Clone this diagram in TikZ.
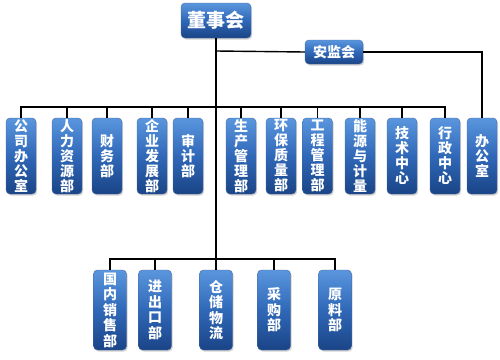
\documentclass[tikz,border=0pt]{standalone}
\usepackage{fontspec}
\newfontfamily\cjk{Noto Sans CJK SC}
\usetikzlibrary{shadows}
\definecolor{orgtop}{RGB}{90,150,222}
\definecolor{orgmid}{RGB}{48,104,184}
\definecolor{orgbot}{RGB}{26,68,134}

\begin{document}
\begin{tikzpicture}[x=1pt,y=-1pt,
      box/.style={rounded corners=4pt,top color=orgtop,bottom color=orgbot,middle color=orgmid,
        draw=orgbot!80,thin,text=white,inner sep=0pt,align=center,
        drop shadow={shadow xshift=1.2pt,shadow yshift=-1.5pt,opacity=.35}},
      dept/.style={box,minimum width=30pt,minimum height=76pt,
        font=\cjk\bfseries\fontsize{14}{15}\selectfont},
      sub/.style={box,minimum width=33pt,minimum height=80pt,
        font=\cjk\bfseries\fontsize{14}{15.5}\selectfont},
      ln/.style={line width=1.4pt}]
      \useasboundingbox (0,0) rectangle (500,359);
      % top level
      \node[box,minimum width=70pt,minimum height=35pt,font=\cjk\bfseries\fontsize{19}{20}\selectfont]
        (board) at (216,20.5) {董事会};
      \node[box,minimum width=58pt,minimum height=24pt,font=\cjk\bfseries\fontsize{14}{15}\selectfont]
        (ajh) at (334,52) {安监会};
      % departments
      \node[dept] (gsbgs) at (21,156) {公\\司\\办\\公\\室};
      \node[dept] (rlzy) at (67,156) {人\\力\\资\\源\\部};
      \node[dept] (cwb) at (107,156) {财\\务\\部};
      \node[dept] (qyfz) at (152,156) {企\\业\\发\\展\\部};
      \node[dept] (sjb) at (188,156) {审\\计\\部};
      \node[dept] (scgl) at (241,156) {生\\产\\管\\理\\部};
      \node[dept] (hbzl) at (281,156) {环\\保\\质\\量\\部};
      \node[dept] (gcgl) at (317.5,156) {工\\程\\管\\理\\部};
      \node[dept] (nyjl) at (360,156) {能\\源\\与\\计\\量};
      \node[dept] (jszx) at (402,156) {技\\术\\中\\心};
      \node[dept] (xzzx) at (445,156) {行\\政\\中\\心};
      \node[dept] (bgs) at (482,156) {办\\公\\室};
      % lower row
      \node[sub] (gnxs) at (110,310) {国\\内\\销\\售\\部};
      \node[sub] (jck) at (155,310) {进\\出\\口\\部};
      \node[sub] (ccwl) at (216,310) {仓\\储\\物\\流};
      \node[sub] (cgb) at (274,310) {采\\购\\部};
      \node[sub] (ylb) at (335,310) {原\\料\\部};
      % buses
      \coordinate (ajbus) at (216,51);
      \coordinate (bus1) at (216,107);
      \coordinate (bus2) at (216,259);
      \draw[ln] (board.south) -- (bus2);
      \draw[ln] (ajbus) -- (ajh.west);
      \draw[ln] (ajh.east) -| (bgs.north);
      \foreach \n in {gsbgs,rlzy,cwb,qyfz,sjb,scgl,hbzl,gcgl,nyjl,jszx,xzzx}
        \draw[ln] (\n.north) |- (bus1);
      \foreach \n in {gnxs,jck,cgb,ylb}
        \draw[ln] (\n.north) |- (bus2);
      \draw[ln] (bus2) -- (ccwl.north);
    \end{tikzpicture}
\end{document}
